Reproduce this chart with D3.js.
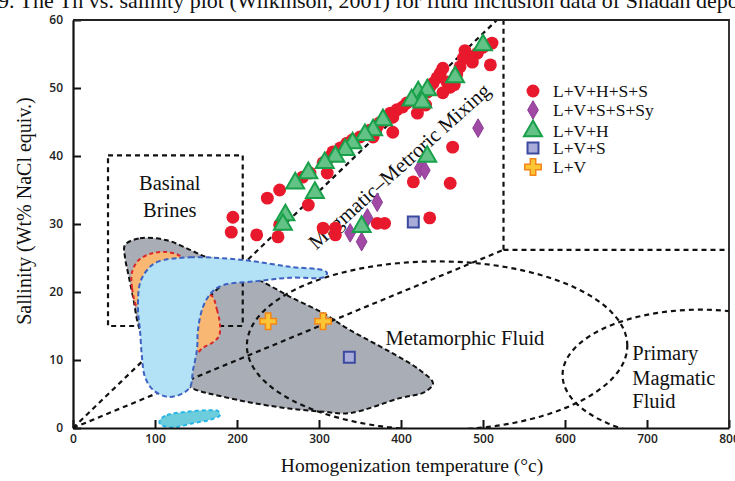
<!DOCTYPE html>
<html><head><meta charset="utf-8">
<script src="https://cdn.jsdelivr.net/npm/d3@7"></script>
<style>body{margin:0;background:#fff;overflow:hidden} svg{display:block}</style>
</head><body>
<svg id="c" width="735" height="481"></svg>
<script>
// ---------- data ----------
const xTicks = [0,100,200,300,400,500,600,700,800];
const yTicks = [0,10,20,30,40,50,60];
const seriesNames = ["L+V+H+S+S","L+V+S+S+Sy","L+V+H","L+V+S","L+V"];
const lvhss = [[511,56.6],[500,56.0],[493,55.1],[484,54.6],[476,54.4],[487,53.8],[509,53.4],[472,53.1],[451,52.9],[448,52.2],[444,51.5],[456,50.9],[460,50.1],[439,50.7],[435,50.1],[451,49.3],[432,49.4],[423,48.7],[415,48.2],[407,47.8],[402,47.2],[395,46.8],[387,46.3],[420,46.3],[390,45.7],[383,45.3],[374,44.9],[371,44.3],[390,43.5],[362,43.8],[366,42.8],[359,43.4],[350,42.8],[341,42.4],[334,41.9],[326,41.2],[317,40.6],[313,39.9],[310,39.4],[305,39.0],[310,37.5],[289,37.5],[280,36.9],[252,35.0],[237,33.8],[287,32.8],[195,31.0],[193,28.8],[224,28.4],[250,28.1],[252,29.9],[305,29.4],[320,29.4],[320,28.4],[371,30.1],[380,30.1],[435,30.9],[415,36.2],[460,36.0],[463,41.3],[468,52.0],[478,55.5],[465,50.5],[430,47.5]];
const lvsssy = [[494,44.1],[423,38.2],[429,37.9],[371,33.2],[359,30.9],[338,28.7],[352,27.4]];
const lvh = [[500,56.3],[466,51.6],[421,49.4],[432,49.7],[413,48.2],[426,47.9],[378,45.3],[366,43.8],[356,43.1],[341,41.9],[332,40.9],[320,39.9],[307,39.0],[287,37.5],[271,36.0],[295,34.6],[432,39.9],[259,31.3],[256,29.9],[352,29.6]];
const lvs = [[415,30.3],[337,10.4]];
const lv = [[238,15.7],[305,15.7]];

// field outlines (Th, salinity)
const grayField = [[63.4,26.9],[81.7,27.9],[114.6,27.6],[142.7,26.2],[163.4,25.1],[191.5,24.4],[215.9,22.5],[231.7,21.5],[264.6,19.3],[304.9,16.9],[337.8,14.4],[386.6,11.2],[423.2,8.5],[439,6.6],[429.3,5.3],[398.8,4.4],[337.8,2.2],[304.9,2.4],[248.8,3.1],[182.9,4.6],[142.7,6.0],[106.1,9.3],[81.7,14.4],[73.2,19.3],[67.1,22.8],[63.4,25.1]];
const blueField = [[102.4,24.4],[142.7,25.1],[207.3,24.7],[264.6,23.7],[304.9,23.2],[309.8,22.8],[306.1,22.2],[264.6,22.1],[224.4,21.6],[182.9,21.0],[169.5,20.0],[158.5,17.8],[152.4,14.4],[151.2,11.5],[146.3,8.5],[142.7,6.0],[130.5,4.9],[114.6,4.6],[97.6,5.6],[87.8,7.5],[84.1,10.4],[81.7,14.4],[79.3,17.4],[81.7,21.3],[90.2,23.2]];
const orangeA = [[78.0,17.9],[72.0,20.6],[72.0,22.9],[79.3,24.6],[93.9,25.6],[112.2,25.9],[130.5,25.3],[136.6,24.0],[93.9,21.8],[84.1,18.8]];
const orangeB = [[169.5,19.4],[175.6,17.4],[179.3,15.1],[178.0,13.5],[170.7,12.6],[158.5,11.8],[150.0,11.0],[142.7,12.9],[146.3,17.4],[161.0,19.6]];
const cyanField = [[106.1,1.2],[114.6,1.9],[139.0,2.4],[163.4,2.6],[176.8,2.5],[179.3,1.9],[167.1,1.2],[146.3,0.7],[126.8,0.15],[114.6,0.15],[106.1,0.6]];
const basinalBox = [[42.7,15.0],[207,40.1]];
const mixingLines = [
  [[0,0],[517,60]],
  [[0,0],[525,26.2]],
  [[525,26.2],[525,60]],
  [[525,26.2],[800,26.2]]
];
const metamorphicEllipse = {cx:444, cy:12.1, rx:232, ry:12.4};
const primaryEllipse = {cx:765, cy:7.8, rx:168, ry:9.6};

// ---------- setup ----------
const svg = d3.select("#c");
const L=73, R=729, T=20, B=428;
const x = d3.scaleLinear().domain([0,800]).range([L,R]);
const y = d3.scaleLinear().domain([0,60]).range([B,T]);
const serif = "'Liberation Serif','Times New Roman',serif";

svg.append("defs").append("clipPath").attr("id","plot")
  .append("rect").attr("x",L).attr("y",T).attr("width",R-L).attr("height",B-T);

// title (clipped at top)
svg.append("text").attr("x",-2).attr("y",8).attr("font-family",serif).attr("font-size",22)
  .attr("fill","#111").text("9. The Th vs. salinity plot (Wilkinson, 2001) for fluid inclusion data of Shadan deposit");

const g = svg.append("g").attr("clip-path","url(#plot)");
const line = d3.line().x(d=>x(d[0])).y(d=>y(d[1]));
const closed = d3.line().x(d=>x(d[0])).y(d=>y(d[1])).curve(d3.curveCatmullRomClosed.alpha(0.5));

// gray field
g.append("path").attr("d",closed(grayField)).attr("fill","#a9adb6")
  .attr("stroke","#111").attr("stroke-width",2).attr("stroke-dasharray","5,3");

// dashed boundary lines
const dash = {stroke:"#111","stroke-width":2.2,"stroke-dasharray":"5,4",fill:"none"};
function sty(s){ for(const k in dash) s.attr(k,dash[k]); return s; }
sty(g.append("rect").attr("x",x(basinalBox[0][0])).attr("y",y(basinalBox[1][1]))
  .attr("width",x(basinalBox[1][0])-x(basinalBox[0][0])).attr("height",y(basinalBox[0][1])-y(basinalBox[1][1])));
mixingLines.forEach(l=>sty(g.append("path").attr("d",line(l))));
function ellipse(e){
  const pts=d3.range(0,361,3).map(a=>[e.cx+e.rx*Math.cos(a*Math.PI/180), e.cy+e.ry*Math.sin(a*Math.PI/180)]);
  return line(pts);
}
sty(g.append("path").attr("d",ellipse(metamorphicEllipse)));
sty(g.append("path").attr("d",ellipse(primaryEllipse)));

// orange fields
[orangeA,orangeB].forEach(o=>g.append("path").attr("d",closed(o)).attr("fill","#f8b874")
  .attr("stroke","#d8282a").attr("stroke-width",2).attr("stroke-dasharray","4,3"));
// blue field
g.append("path").attr("d",closed(blueField)).attr("fill","#b3e1f5")
  .attr("stroke","#3d62c2").attr("stroke-width",2).attr("stroke-dasharray","5,3");
// cyan field
g.append("path").attr("d",closed(cyanField)).attr("fill","#6ecddc")
  .attr("stroke","#28b6e6").attr("stroke-width",2).attr("stroke-dasharray","4,3");

// region labels
function lbl(t,tx,sy,anchor,rot,fs){
  const el=svg.append("text").attr("font-family",serif).attr("font-size",fs||20.5).attr("fill","#111")
    .attr("text-anchor",anchor||"middle").attr("dominant-baseline","central").text(t);
  if(rot) el.attr("transform",`translate(${x(tx)},${y(sy)}) rotate(${rot})`);
  else el.attr("x",x(tx)).attr("y",y(sy));
}
lbl("Basinal",118,36.0,"middle");
lbl("Brines",118,32.1,"middle");
lbl("Metamorphic Fluid",478,13.2,"middle");
lbl("Primary",682,11.0,"start");
lbl("Magmatic",682,7.4,"start");
lbl("Fluid",682,4.0,"start");
lbl("Magmatic\u2013Metroric Mixing",398,38.5,"middle",-42,21);

// ---------- markers ----------
const sym = {
  c: d3.symbol(d3.symbolCircle,130),
  d: d3.symbol(d3.symbolDiamond,100),
  t: d3.symbol(d3.symbolTriangle,140),
  s: d3.symbol(d3.symbolSquare,120),
  p: d3.symbol(d3.symbolCross,150)
};
const styles = [
  {k:"c",fill:"#e8192c",stroke:"#e8192c",sw:0},
  {k:"d",fill:"#a04aa6",stroke:"#8e3e96",sw:1},
  {k:"t",fill:"#63c286",stroke:"#19a04a",sw:2},
  {k:"s",fill:"#a9acd8",stroke:"#3b4aa0",sw:2},
  {k:"p",fill:"#fbc535",stroke:"#f28618",sw:1.5}
];
const allSeries = [lvhss,lvsssy,lvh,lvs,lv];
const mg = svg.append("g");
allSeries.forEach((data,i)=>{
  const st=styles[i];
  mg.selectAll(null).data(data).enter().append("path")
    .attr("d",sym[st.k]()).attr("transform",d=>`translate(${x(d[0])},${y(d[1])})`)
    .attr("fill",st.fill).attr("stroke",st.stroke).attr("stroke-width",st.sw);
});

// ---------- axes ----------
const tickFont = "'Open Sans',sans-serif";
const xa = svg.append("g").attr("transform",`translate(0,${B})`)
  .call(d3.axisBottom(x).tickValues(xTicks).tickSizeInner(-8).tickSizeOuter(0).tickPadding(6).tickFormat(d3.format("d")));
const ya = svg.append("g").attr("transform",`translate(${L},0)`)
  .call(d3.axisLeft(y).tickValues(yTicks).tickSizeInner(-8).tickSizeOuter(0).tickPadding(10).tickFormat(d3.format("d")));
[xa,ya].forEach(a=>{
  a.select(".domain").attr("stroke","#111").attr("stroke-width",2.2);
  a.selectAll(".tick line").attr("stroke","#111").attr("stroke-width",2);
  a.selectAll(".tick text").attr("font-family",tickFont).attr("font-weight",600).attr("font-size",12).attr("fill","#222");
});
// frame top/right
svg.append("path").attr("d",`M${L},${T}H${R}V${B}`).attr("fill","none").attr("stroke","#222").attr("stroke-width",1.8);

svg.append("text").attr("x",412).attr("y",472).attr("text-anchor","middle")
  .attr("font-family",serif).attr("font-size",19.5).attr("fill","#111").text("Homogenization temperature (\u00b0c)");
svg.append("text").attr("transform",`translate(24,211) rotate(-90)`).attr("text-anchor","middle")
  .attr("dominant-baseline","central").attr("font-family",serif).attr("font-size",20).attr("fill","#111")
  .text("Sallinity (Wt% NaCl equiv.)");

// ---------- legend ----------
const legY = [91,110,131,148,167];
const lg = svg.append("g");
seriesNames.forEach((n,i)=>{
  const st=styles[i];
  lg.append("path").attr("d",sym[st.k]()).attr("transform",`translate(533,${legY[i]})`)
    .attr("fill",st.fill).attr("stroke",st.stroke).attr("stroke-width",st.sw);
  lg.append("text").attr("x",553).attr("y",legY[i]).attr("dominant-baseline","central")
    .attr("font-family",serif).attr("font-size",17.5).attr("fill","#111").text(n);
});
</script>
</body></html>
